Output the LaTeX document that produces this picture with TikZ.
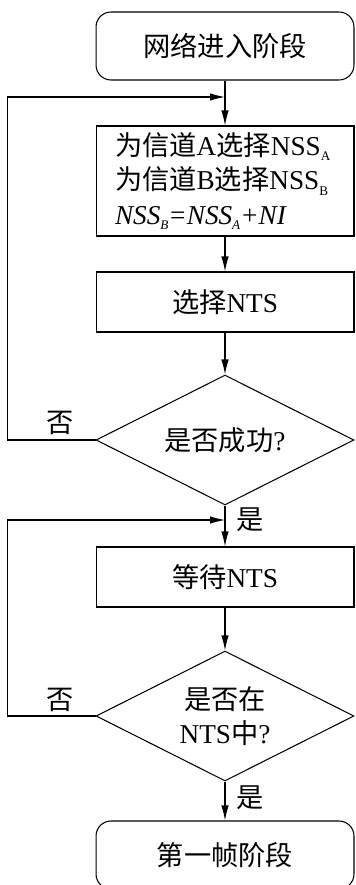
\documentclass[tikz,border=0pt]{standalone}
\usepackage{fontspec}
\setmainfont{Liberation Serif}
\newfontfamily\cjk{Noto Sans CJK SC}
\newcommand{\zh}[1]{{\cjk #1}}
\newcommand{\low}[1]{\raisebox{-3pt}{\fontsize{7.5}{8}\selectfont #1}}
\usetikzlibrary{shapes.geometric,arrows.meta}

\begin{document}
\begin{tikzpicture}[x=0.02cm,y=-0.02cm,line width=0.6pt,
	>={Latex[length=0.3cm,width=0.15cm]},
	every node/.style={font=\fontsize{15.5}{19.5}\selectfont},
	term/.style={draw,rounded corners=0.3cm,minimum width=5.16cm,minimum height=1.36cm},
	proc/.style={draw,minimum width=5.16cm,minimum height=1.2cm},
	decide/.style={draw,diamond,aspect=2,inner sep=0pt,minimum width=5.16cm,minimum height=2.6cm,align=center}]
		
		\clip (0,0) rectangle (355,885);
		
		% boxes of the flow
		\node[term] (start) at (225,46) {\zh{网络进入阶段}};
		\node[proc,minimum height=2.2cm,text width=4.4cm,inner xsep=0.38cm,align=left] (nss) at (225,181)
		{\zh{为信道}A\zh{选择}NSS\low{A}\\
		 \zh{为信道}B\zh{选择}NSS\low{B}\\
		 \textit{NSS\low{B}=NSS\low{A}+NI}};
		\node[proc] (sel) at (225,302) {\zh{选择}NTS};
		\node[decide] (ok) at (225,440) {\zh{是否成功}?};
		\node[proc] (wait) at (225,577) {\zh{等待}NTS};
		\node[decide] (innts) at (225,716) {\zh{是否在}\\NTS\zh{中}?};
		\node[term] (first) at (225,855) {\zh{第一帧阶段}};
		
		% where the loops come back
		\coordinate (j1) at (225,97);
		\coordinate (j2) at (225,520);
		
		% main line
		\draw[->] (start) -- (nss);
		\draw[->] (nss) -- (sel);
		\draw[->] (sel) -- (ok);
		\draw[->] (ok) -- (wait);
		\draw[->] (wait) -- (innts);
		\draw[->] (innts) -- (first);
		
		% loops back on failure
		\draw[->] (ok.west) -- ++(-88,0) |- (j1);
		\draw[->] (innts.west) -- ++(-88,0) |- (j2);
		
		% yes / no labels
		\node (no1) at (60,423) {\zh{否}};
		\node (no2) at (60,700) {\zh{否}};
		\node (yes1) at (250,520) {\zh{是}};
		\node (yes2) at (250,798) {\zh{是}};
		
	\end{tikzpicture}
\end{document}
